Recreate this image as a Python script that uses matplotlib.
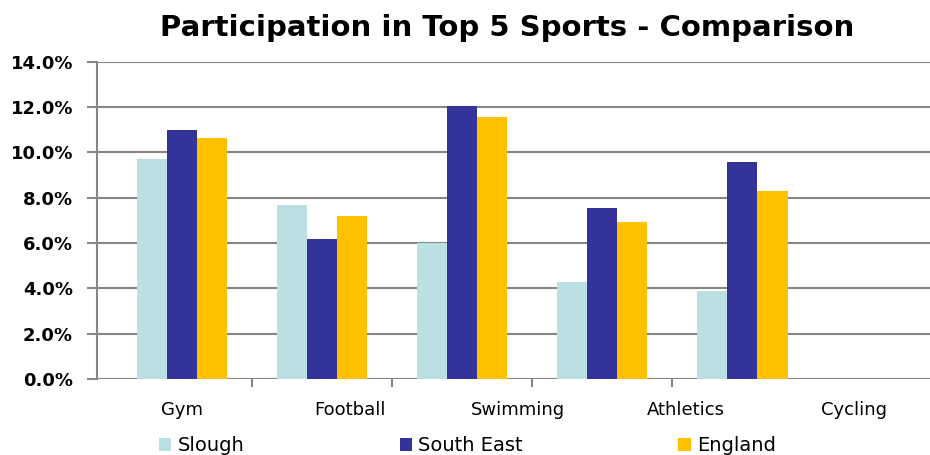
import matplotlib.pyplot as plt
import numpy as np
from matplotlib.ticker import FuncFormatter

sports = ["Gym", "Football", "Swimming", "Athletics", "Cycling"]
slough = [9.7, 7.7, 6.0, 4.3, 3.9]
south_east = [11.0, 6.2, 12.05, 7.55, 9.6]
england = [10.65, 7.2, 11.55, 6.95, 8.3]
series_names = ["Slough", "South East", "England"]
colors = ["#BAE0E3", "#333399", "#FFC000"]

fig = plt.figure(figsize=(9.3, 4.55), dpi=100)
ax = fig.add_axes([0.104, 0.167, 0.896, 0.697])

x = np.arange(len(sports))
w = 0.215
for i, (vals, name, c) in enumerate(zip([slough, south_east, england], series_names, colors)):
    ax.bar(x + (i - 1) * w, vals, width=w, color=c, label=name, zorder=2)

ax.set_ylim(0, 14)
ax.set_yticks(np.arange(0, 14.1, 2))
ax.yaxis.set_major_formatter(FuncFormatter(lambda v, p: f"{v:.1f}%"))
ax.set_xlim(-0.61, 5.34)
ax.grid(axis="y", color="#868686", linewidth=1.5, zorder=0)

# category labels are spread wider than the bar groups in the original
ax.set_xticks(x * 1.2, sports)
ax.set_xticks(x[:-1] + 0.5, minor=True)
ax.tick_params(axis="x", which="major", length=0, pad=16, labelsize=13)
ax.tick_params(axis="x", which="minor", length=6, width=1.5, color="#868686")
ax.tick_params(axis="y", length=7, width=1.5, color="#868686", labelsize=13, pad=10)
for lbl in ax.get_yticklabels():
    lbl.set_fontweight("bold")

for s in ["top", "right"]:
    ax.spines[s].set_visible(False)
ax.spines["left"].set_color("#868686")
ax.spines["left"].set_linewidth(1.5)
ax.spines["bottom"].set_visible(False)

fig.suptitle("Participation in Top 5 Sports - Comparison", x=0.545, y=0.97,
             fontsize=21, fontweight="heavy")

fig.legend(loc="upper left", bbox_to_anchor=(0.152, 0.08), ncol=3, frameon=False,
           fontsize=14, handlelength=0.65, handleheight=0.65, handletextpad=0.3,
           columnspacing=8.0)

fig.savefig("out.png", dpi=100)
